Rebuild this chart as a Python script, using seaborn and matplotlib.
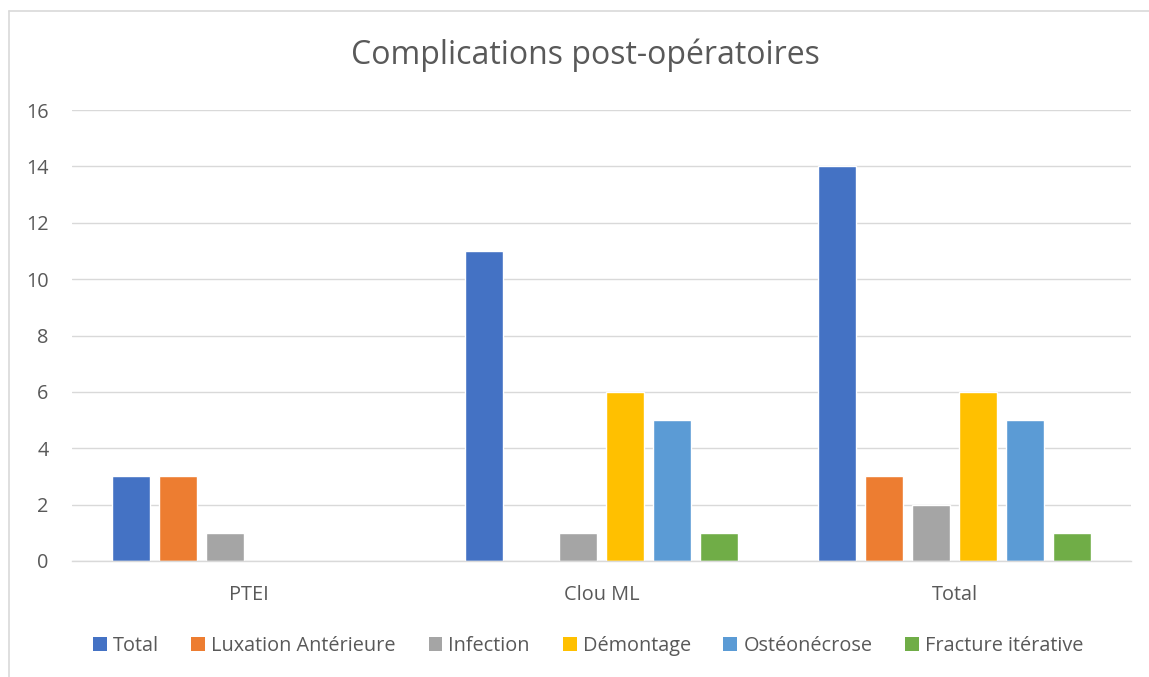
import matplotlib
matplotlib.use("Agg")
import matplotlib.pyplot as plt
import seaborn as sns
import pandas as pd
from matplotlib.patches import Patch
from matplotlib.lines import Line2D

groups = ["PTEI", "Clou ML", "Total"]
series = ["Total", "Luxation Antérieure", "Infection", "Démontage", "Ostéonécrose", "Fracture itérative"]
values = {
    "Total": [3, 11, 14],
    "Luxation Antérieure": [3, 0, 3],
    "Infection": [1, 1, 2],
    "Démontage": [0, 6, 6],
    "Ostéonécrose": [0, 5, 5],
    "Fracture itérative": [0, 1, 1],
}
colors = ["#4472C4", "#ED7D31", "#A5A5A5", "#FFC000", "#5B9BD5", "#70AD47"]
yticks = [0, 2, 4, 6, 8, 10, 12, 14, 16]

rows = []
for s in series:
    for g, v in zip(groups, values[s]):
        rows.append({"group": g, "series": s, "value": v})
df = pd.DataFrame(rows)

sns.set_theme(style="white")
plt.rcParams["font.family"] = ["Open Sans", "DejaVu Sans"]
txt = "#595959"

fig = plt.figure(figsize=(11.49, 6.77), dpi=100)
ax = fig.add_axes([72/1149, 1-561/677, (1131-72)/1149, (561-110)/677])

sns.barplot(data=df, x="group", y="value", hue="series", order=groups,
            hue_order=series, palette=colors, width=0.8, gap=0.19,
            saturation=1, ax=ax, legend=False)

ax.set_ylim(0, 16)
ax.set_xlim(-0.5, 2.5)
ax.set_yticks(yticks)
ax.yaxis.grid(True, color="#D9D9D9", linewidth=1)
ax.set_axisbelow(True)
for sp in ["top", "right", "left"]:
    ax.spines[sp].set_visible(False)
ax.spines["bottom"].set_color("#D9D9D9")
ax.spines["bottom"].set_linewidth(1)
ax.set_xlabel("")
ax.set_ylabel("")
ax.tick_params(axis="y", length=0, pad=17, labelsize=14.3, labelcolor=txt)
ax.tick_params(axis="x", length=0, pad=17, labelsize=14.3, labelcolor=txt)

fig.text(585/1149, 1-55/677, "Complications post-opératoires", ha="center", va="center",
         fontsize=23, color=txt)

handles = [Patch(facecolor=c, edgecolor="none") for c in colors]
leg = fig.legend(handles, series, loc="center", bbox_to_anchor=(588/1149, 1-646/677),
                 ncol=6, frameon=False, fontsize=14.3, handlelength=0.7, handleheight=0.7,
                 handletextpad=0.3, columnspacing=1.65, labelcolor=txt)

# chart border (left and top visible)
fig.add_artist(Line2D([8.5/1149, 8.5/1149], [0, 1-10.5/677], color="#D9D9D9", lw=1.2,
                      transform=fig.transFigure))
fig.add_artist(Line2D([8.5/1149, 1], [1-10.5/677, 1-10.5/677], color="#D9D9D9", lw=1.2,
                      transform=fig.transFigure))

fig.savefig("out.png", dpi=100)
